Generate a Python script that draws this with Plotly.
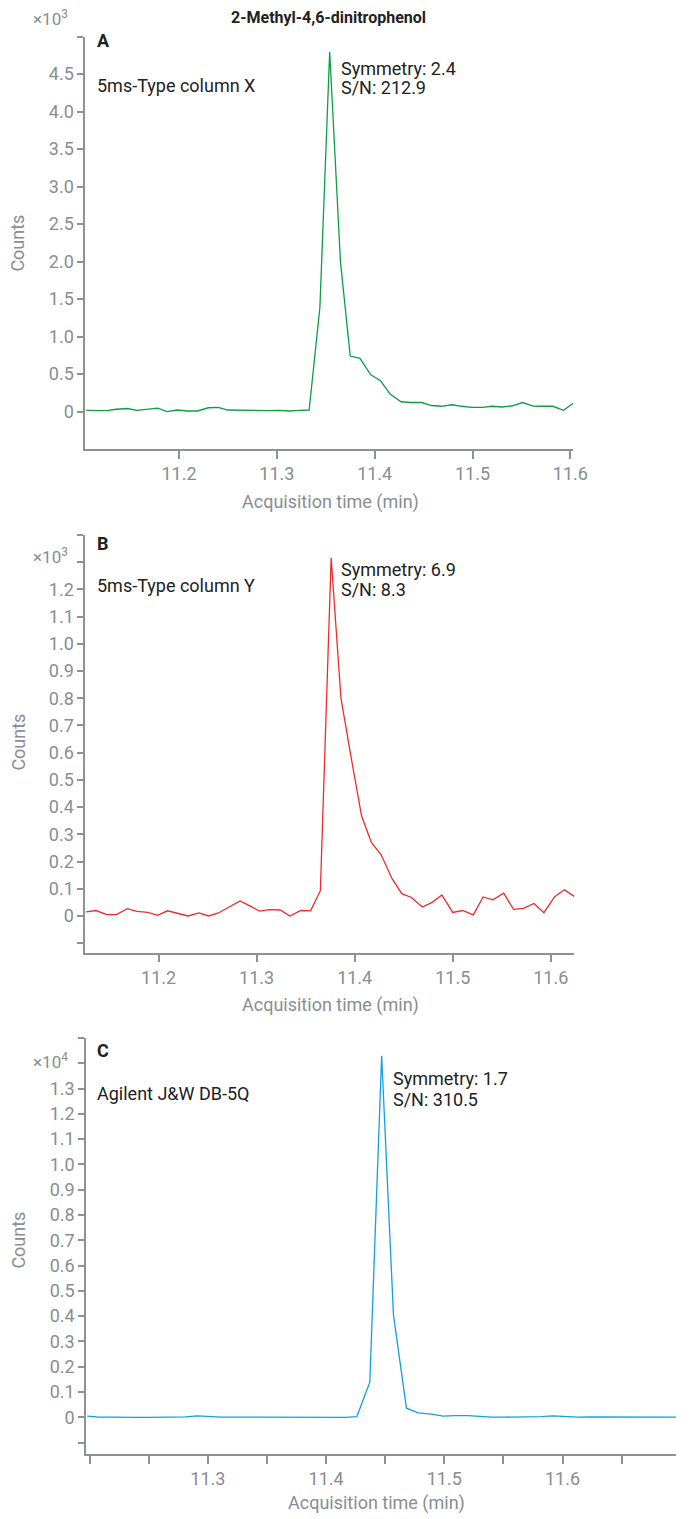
import plotly.graph_objects as go

W, H = 691, 1519

# ---------------- data ----------------
time_a = [11.105, 11.115, 11.126, 11.136, 11.147, 11.157, 11.167, 11.178, 11.188, 11.198,
          11.209, 11.219, 11.230, 11.240, 11.250, 11.261, 11.271, 11.281, 11.292, 11.302,
          11.313, 11.323, 11.333, 11.344, 11.354, 11.365, 11.375, 11.385, 11.396, 11.406,
          11.416, 11.427, 11.437, 11.448, 11.458, 11.468, 11.479, 11.489, 11.499, 11.510,
          11.520, 11.530, 11.541, 11.551, 11.562, 11.572, 11.582, 11.593, 11.603]
counts_a = [0.016, 0.016, 0.012, 0.030, 0.040, 0.016, 0.030, 0.046, 0.000, 0.020,
            0.007, 0.007, 0.050, 0.055, 0.020, 0.016, 0.012, 0.012, 0.012, 0.016,
            0.007, 0.016, 0.020, 1.390, 4.800, 2.000, 0.740, 0.710, 0.490, 0.410,
            0.230, 0.130, 0.120, 0.120, 0.080, 0.070, 0.090, 0.070, 0.056, 0.056,
            0.070, 0.060, 0.077, 0.120, 0.073, 0.070, 0.070, 0.016, 0.110]

time_b = [11.126, 11.136, 11.147, 11.157, 11.168, 11.178, 11.189, 11.199, 11.209, 11.220,
          11.230, 11.241, 11.251, 11.261, 11.272, 11.283, 11.293, 11.303, 11.313, 11.324,
          11.334, 11.345, 11.355, 11.365, 11.376, 11.386, 11.396, 11.407, 11.417, 11.427,
          11.438, 11.448, 11.458, 11.469, 11.479, 11.489, 11.500, 11.510, 11.521, 11.531,
          11.541, 11.552, 11.562, 11.572, 11.583, 11.593, 11.604, 11.614, 11.624]
counts_b = [0.015, 0.020, 0.005, 0.005, 0.027, 0.017, 0.013, 0.002, 0.019, 0.010,
            0.000, 0.011, 0.000, 0.011, 0.033, 0.055, 0.037, 0.018, 0.023, 0.022,
            0.000, 0.020, 0.019, 0.093, 1.316, 0.800, 0.590, 0.368, 0.270, 0.225,
            0.138, 0.082, 0.068, 0.033, 0.050, 0.077, 0.013, 0.020, 0.004, 0.070,
            0.059, 0.084, 0.024, 0.028, 0.046, 0.012, 0.071, 0.096, 0.072]

time_c = [11.198, 11.208, 11.219, 11.229, 11.239, 11.250, 11.260, 11.271, 11.281, 11.291,
          11.302, 11.312, 11.322, 11.333, 11.343, 11.354, 11.364, 11.374, 11.385, 11.395,
          11.405, 11.416, 11.426, 11.437, 11.447, 11.457, 11.468, 11.478, 11.489, 11.499,
          11.509, 11.520, 11.530, 11.540, 11.551, 11.561, 11.571, 11.582, 11.592, 11.603,
          11.613, 11.623, 11.634, 11.644, 11.654, 11.665, 11.675, 11.685, 11.696]
counts_c = [0.005, 0.001, 0.001, 0.002, 0.000, 0.000, 0.001, 0.000, 0.002, 0.006,
            0.003, 0.001, 0.001, 0.001, 0.002, 0.002, 0.002, 0.001, 0.000, 0.001,
            0.002, 0.000, 0.003, 0.139, 1.430, 0.405, 0.036, 0.018, 0.013, 0.005,
            0.007, 0.007, 0.004, 0.001, 0.001, 0.001, 0.002, 0.003, 0.006, 0.002,
            0.001, 0.002, 0.002, 0.001, 0.002, 0.002, 0.001, 0.001, 0.001]

ytick_a = [0, 0.5, 1.0, 1.5, 2.0, 2.5, 3.0, 3.5, 4.0, 4.5, 5.0]
ytext_a = ["0", "0.5", "1.0", "1.5", "2.0", "2.5", "3.0", "3.5", "4.0", "4.5", ""]
ytick_b = [-0.1, 0, 0.1, 0.2, 0.3, 0.4, 0.5, 0.6, 0.7, 0.8, 0.9, 1.0, 1.1, 1.2, 1.3, 1.4]
ytext_b = ["", "0", "0.1", "0.2", "0.3", "0.4", "0.5", "0.6", "0.7", "0.8", "0.9",
           "1.0", "1.1", "1.2", "", ""]
ytick_c = [-0.1, 0, 0.1, 0.2, 0.3, 0.4, 0.5, 0.6, 0.7, 0.8, 0.9, 1.0, 1.1, 1.2, 1.3, 1.4, 1.5]
ytext_c = ["", "0", "0.1", "0.2", "0.3", "0.4", "0.5", "0.6", "0.7", "0.8", "0.9",
           "1.0", "1.1", "1.2", "1.3", "", ""]
xtick_ab = [11.2, 11.3, 11.4, 11.5, 11.6]
xtext_ab = ["11.2", "11.3", "11.4", "11.5", "11.6"]
xtick_c = [11.2, 11.25, 11.3, 11.35, 11.4, 11.45, 11.5, 11.55, 11.6, 11.65]
xtext_c = ["", "", "11.3", "", "11.4", "", "11.5", "", "11.6", ""]

# ---------------- styling ----------------
FONT = "Roboto, 'Noto Sans', sans-serif"
GRAY = "#8a8d91"
AX = "#8f9295"
DARK = "#222222"
TICK_SIZE = 18
TEXT_SIZE = 18


def px(x):
    return x / W


def py(y):
    return 1 - y / H


fig = go.Figure()
fig.add_trace(go.Scatter(x=time_a, y=counts_a, mode="lines",
                         line=dict(color="#0a9e45", width=1.3), xaxis="x", yaxis="y",
                         showlegend=False, hoverinfo="skip"))
fig.add_trace(go.Scatter(x=time_b, y=counts_b, mode="lines",
                         line=dict(color="#ee2b2b", width=1.3), xaxis="x2", yaxis="y2",
                         showlegend=False, hoverinfo="skip"))
fig.add_trace(go.Scatter(x=time_c, y=counts_c, mode="lines",
                         line=dict(color="#12a0dc", width=1.3), xaxis="x3", yaxis="y3",
                         showlegend=False, hoverinfo="skip"))


def xax(domain, rng, tv, tt, anchor):
    return dict(domain=domain, range=rng, anchor=anchor, showgrid=False, zeroline=False,
                showline=True, linecolor=AX, linewidth=1.5, ticks="outside", ticklen=8,
                tickwidth=1.5, tickcolor=AX, tickvals=tv, ticktext=tt,
                tickfont=dict(family=FONT, size=TICK_SIZE, color=GRAY))


def yax(domain, rng, tv, tt, anchor):
    return dict(domain=domain, range=rng, anchor=anchor, showgrid=False, zeroline=False,
                showline=True, linecolor=AX, linewidth=1.5, ticks="outside", ticklen=6,
                tickwidth=1.5, tickcolor=AX, tickvals=tv, ticktext=tt,
                tickfont=dict(family=FONT, size=TICK_SIZE, color=GRAY))


fig.update_layout(
    width=W, height=H,
    margin=dict(l=0, r=0, t=0, b=0),
    paper_bgcolor="white", plot_bgcolor="white",
    xaxis=xax([px(87), px(586)], [11.104, 11.603], xtick_ab, xtext_ab, "y"),
    yaxis=yax([py(449), py(36.7)], [-0.5, 5.0], ytick_a, ytext_a, "x"),
    xaxis2=xax([px(87), px(587)], [11.125, 11.624], xtick_ab, xtext_ab, "y2"),
    yaxis2=yax([py(952.7), py(535)], [-0.135, 1.4], ytick_b, ytext_b, "x2"),
    xaxis3=xax([px(88), 1.0], [11.197, 11.696], xtick_c, xtext_c, "y3"),
    yaxis3=yax([py(1454), py(1038)], [-0.145, 1.5], ytick_c, ytext_c, "x3"),
)

anns = []


def text(x, y, s, size=TEXT_SIZE, color=DARK, xanchor="left", yanchor="middle", angle=0):
    anns.append(dict(x=px(x), y=py(y), xref="paper", yref="paper", text=s,
                     showarrow=False, xanchor=xanchor, yanchor=yanchor, textangle=angle,
                     font=dict(family=FONT, size=size, color=color)))


# title
text(336, 18, "<b>2-Methyl-4,6-dinitrophenol</b>", size=16, xanchor="center")

# Panel A
text(72, 18, "×10<sup>3</sup>", size=17, color=GRAY, xanchor="right")
text(97, 41, "<b>A</b>", size=18)
text(97, 86, "5ms-Type column X", size=TEXT_SIZE)
text(347, 68, "Symmetry: 2.4", size=TEXT_SIZE)
text(347, 88, "S/N: 212.9", size=TEXT_SIZE)
text(338, 502, "Acquisition time (min)", size=TEXT_SIZE, color=GRAY, xanchor="center")
text(18, 243, "Counts", size=TEXT_SIZE, color=GRAY, xanchor="center", angle=-90)

# Panel B
text(72, 556, "×10<sup>3</sup>", size=17, color=GRAY, xanchor="right")
text(97, 543, "<b>B</b>", size=18)
text(97, 585, "5ms-Type column Y", size=TEXT_SIZE)
text(347, 569, "Symmetry: 6.9", size=TEXT_SIZE)
text(347, 589, "S/N: 8.3", size=TEXT_SIZE)
text(338, 1005, "Acquisition time (min)", size=TEXT_SIZE, color=GRAY, xanchor="center")
text(18, 742, "Counts", size=TEXT_SIZE, color=GRAY, xanchor="center", angle=-90)

# Panel C
text(72, 1061, "×10<sup>4</sup>", size=17, color=GRAY, xanchor="right")
text(97, 1050, "<b>C</b>", size=18)
text(97, 1093, "Agilent J&W DB-5Q", size=TEXT_SIZE)
text(400, 1078, "Symmetry: 1.7", size=TEXT_SIZE)
text(400, 1099, "S/N: 310.5", size=TEXT_SIZE)
text(385, 1503, "Acquisition time (min)", size=TEXT_SIZE, color=GRAY, xanchor="center")
text(18, 1240, "Counts", size=TEXT_SIZE, color=GRAY, xanchor="center", angle=-90)

fig.update_layout(annotations=anns)

fig.write_html("out.html")
